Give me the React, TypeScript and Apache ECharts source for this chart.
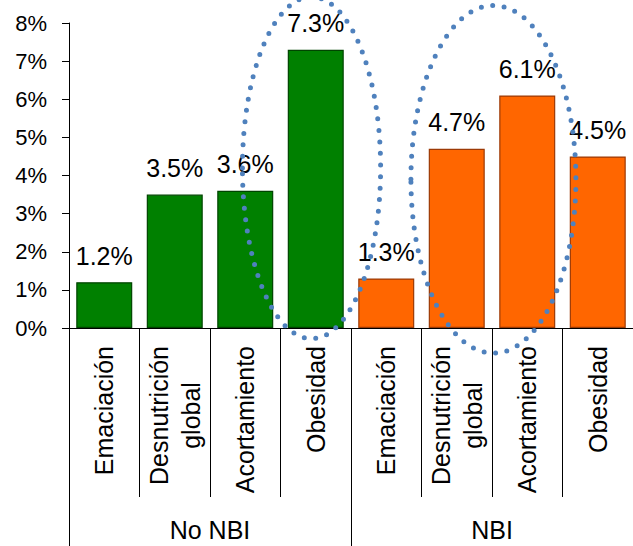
import React, { useEffect, useRef } from "react";
import * as echarts from "echarts";

const categories = [
  "Emaciación",
  "Desnutrición\nglobal",
  "Acortamiento",
  "Obesidad",
  "Emaciación",
  "Desnutrición\nglobal",
  "Acortamiento",
  "Obesidad",
];
const groups = ["No NBI", "NBI"];
const values = [1.2, 3.5, 3.6, 7.3, 1.3, 4.7, 6.1, 4.5];
const groupOfBar = [0, 0, 0, 0, 1, 1, 1, 1];
const groupColors = ["#008000", "#FF6600"];
const groupBorders = ["#004400", "#9C3A06"];
const yTicks = [0, 1, 2, 3, 4, 5, 6, 7, 8];

// annotation ellipses in data units (category index, value)
const ellipses = [
  { cat: 3 - 0.06, val: 4.2, rxCat: 0.98, ryVal: 4.48 },
  { cat: 5.52, val: 3.9, rxCat: 1.17, ryVal: 4.56 },
];

const FONT = "'Liberation Sans', Arial, sans-serif";

export default function App() {
  const ref = useRef<HTMLDivElement>(null);
  useEffect(() => {
    if (!ref.current) return;
    const chart = echarts.init(ref.current, null, { renderer: "svg" });
    chart.setOption({
      animation: false,
      textStyle: { fontFamily: FONT, color: "#000" },
      grid: { left: 69, right: -1, top: 23, bottom: 218, containLabel: false },
      xAxis: [
        {
          type: "category",
          data: categories,
          position: "bottom",
          axisLine: { show: true, lineStyle: { color: "#000", width: 1 } },
          axisTick: { show: true, length: 169, interval: 0, lineStyle: { color: "#000", width: 1 } },
          axisLabel: {
            interval: 0,
            rotate: 90,
            margin: 18,
            color: "#000",
            fontFamily: FONT,
            fontSize: 25,
            formatter: (v: string) => v.split("\n").map((s) => `{c|${s}}`).join("\n"),
            rich: { c: { align: "center", fontSize: 25, lineHeight: 32, fontFamily: FONT, color: "#000" } },
          },
        },
        {
          type: "category",
          data: groups,
          position: "bottom",
          axisLine: { show: false },
          axisTick: { show: true, length: 240, interval: 0, lineStyle: { color: "#000", width: 1 } },
          axisLabel: { interval: 0, margin: 189, color: "#000", fontFamily: FONT, fontSize: 25 },
        },
      ],
      yAxis: {
        type: "value",
        min: yTicks[0],
        max: yTicks[yTicks.length - 1],
        interval: 1,
        axisLine: { show: true, lineStyle: { color: "#000", width: 1 } },
        axisTick: { show: true, length: 7, lineStyle: { color: "#000", width: 1 } },
        splitLine: { show: false },
        axisLabel: { margin: 22, color: "#000", fontFamily: FONT, fontSize: 22, formatter: "{value}%" },
      },
      series: [
        {
          type: "bar",
          xAxisIndex: 0,
          barWidth: 56,
          data: values.map((v, i) => ({
            value: v,
            itemStyle: {
              color: groupColors[groupOfBar[i]],
              borderColor: groupBorders[groupOfBar[i]],
              borderWidth: 1.2,
            },
          })),
          label: {
            show: true,
            position: "top",
            distance: 14,
            color: "#000",
            fontFamily: FONT,
            fontSize: 25,
            formatter: (p: any) => `${Number(p.value).toFixed(1)}%`,
          },
        },
      ],
    });

    const toPx = (c: number, v: number) =>
      chart.convertToPixel({ xAxisIndex: 0, yAxisIndex: 0 }, [c, v]) as number[];
    const x0 = toPx(0, 0)[0];
    const x1 = toPx(1, 0)[0];
    const catW = x1 - x0;
    const y0 = toPx(0, 0)[1];
    const y1 = toPx(0, 1)[1];
    const unitH = y0 - y1;
    chart.setOption({
      graphic: ellipses.map((e) => ({
        type: "ellipse",
        z: 100,
        silent: true,
        shape: {
          cx: x0 + e.cat * catW,
          cy: y0 - e.val * unitH,
          rx: e.rxCat * catW,
          ry: e.ryVal * unitH,
        },
        style: {
          fill: "none",
          stroke: "#4F81BD",
          lineWidth: 5,
          lineDash: [0, 11.5],
          lineCap: "round",
        },
      })),
    });
    return () => chart.dispose();
  }, []);
  return (
    <div
      ref={ref}
      style={{ position: "fixed", left: 0, top: 0, width: 633, height: 546, background: "#fff" }}
    />
  );
}
